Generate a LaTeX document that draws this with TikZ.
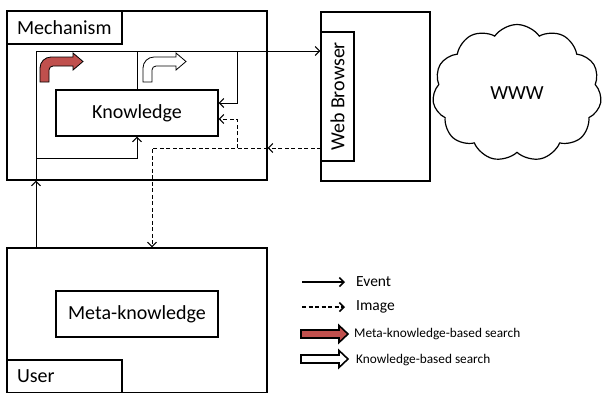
\documentclass[tikz,border=0pt]{standalone}
\usepackage{fontspec}
\setmainfont{Carlito}
\usetikzlibrary{arrows.meta}
\usetikzlibrary{shapes.symbols}
\definecolor{searchred}{HTML}{C0504D}

\begin{document}
\begin{tikzpicture}[x=1pt, y=1pt,
  box/.style={draw, line width=1.3pt, inner sep=0pt},
  ev/.style={line width=1pt, -{Straight Barb[length=4.5pt,width=9pt]}},
  im/.style={ev, dash pattern=on 4pt off 2.5pt},
  txt/.style={font=\fontsize{20}{23}\selectfont},
  legtxt/.style={anchor=west, inner sep=0pt, font=\fontsize{15.5}{17}\selectfont}]
\useasboundingbox (0,0) rectangle (604,-392);
% mechanism
\node[box, minimum width=260pt, minimum height=169pt] (mech) at (137,-95.5) {};
\node[box, minimum width=115pt, minimum height=33pt, text width=95pt, align=left, txt] (mechlbl) at (64.5,-27.5) {Mechanism};
\node[box, minimum width=162pt, minimum height=46pt, txt] (know) at (137,-113) {Knowledge};
% web browser
\node[box, minimum width=109pt, minimum height=169pt] (web) at (375.5,-96.5) {};
\node[box, minimum width=129pt, minimum height=33pt, rotate=90, txt] (weblbl) at (337.5,-96.5) {Web Browser};
\node[draw, cloud, cloud puffs=11, cloud puff arc=110, aspect=1.25, line width=1.2pt,
  minimum width=169pt, minimum height=137pt, txt] (www) at (517,-93) {WWW};
% user
\node[box, minimum width=260pt, minimum height=145pt] (user) at (137,-320.5) {};
\node[box, minimum width=115pt, minimum height=33pt, text width=95pt, align=left, txt] (userlbl) at (64.5,-376.5) {User};
\node[box, minimum width=162pt, minimum height=46pt, txt] (meta) at (137,-314) {Meta-knowledge};

\coordinate (e1) at (36,-51);
\coordinate (e2) at (36,-158);
\coordinate (e3) at (237,-51);
\coordinate (i1) at (321,-148);
\coordinate (i2) at (237,-148);
% events
\draw[ev] (user.north -| e1) -- (mech.south -| e1);
\draw[ev] (mech.south -| e1) -- (e1) -- (weblbl.north |- e1);
\draw[ev] (e2) -| (know.south);
\draw[line width=1pt] (know.north) -- (know.north |- e1);
\draw[ev] (e3) |- ([yshift=10pt]know.east);
% images
\draw[im] (i1) -- (mech.east |- i1);
\draw[im] (mech.east |- i1) -| ([xshift=15pt]user.north);
\draw[im] (i2) |- ([yshift=-6pt]know.east);
% search arrows
\foreach \x/\c in {40/searchred, 143/white} {
  \draw[line width=0.8pt, fill=\c] (\x,-82) -- (\x,-68) arc (180:90:11) -- ++(22,0) -- ++(0,4)
    -- ++(10,-8.5) -- ++(-10,-8.5) -- ++(0,4) -- ++(-20,0) arc (90:180:4) -- ++(0,-12) -- cycle;
}
% legend
\node[legtxt] (lev) at (356,-282) {Event};
\node[legtxt] (lim) at (356,-307) {Image};
\node[legtxt, font=\fontsize{13.3}{15}\selectfont] (lmeta) at (354,-334) {Meta-knowledge-based search};
\node[legtxt, font=\fontsize{13.3}{15}\selectfont] (lknow) at (356,-360) {Knowledge-based search};
\draw[ev, line width=1.6pt] ([xshift=-54pt]lev.west) -- ([xshift=-11pt]lev.west);
\draw[im, line width=1.6pt] ([xshift=-54pt]lim.west) -- ([xshift=-11pt]lim.west);
\foreach \y/\c in {334/searchred, 359/white} {
  \draw[line width=1.6pt, fill=\c] (301,-\y+4) -- (339,-\y+4) -- (339,-\y+8.5) -- (348,-\y)
    -- (339,-\y-8.5) -- (339,-\y-4) -- (301,-\y-4) -- cycle;
}
\end{tikzpicture}
\end{document}
